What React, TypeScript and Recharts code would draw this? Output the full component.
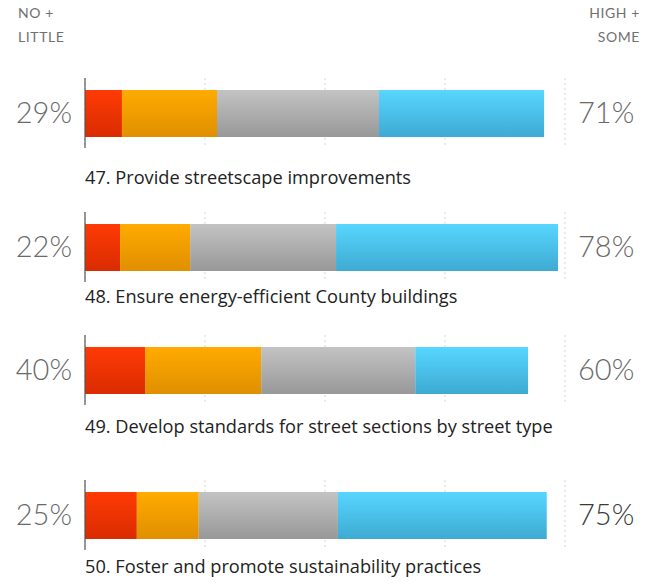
import { Bar, BarChart, CartesianGrid, XAxis, YAxis } from "recharts";

// survey items, top to bottom
const items = [
  "47. Provide streetscape improvements",
  "48. Ensure energy-efficient County buildings",
  "49. Develop standards for street sections by street type",
  "50. Foster and promote sustainability practices",
];

// priority shares (percent of all responses)
const noneVals = [7.7, 7.3, 12.5, 10.8];
const littleVals = [19.8, 14.6, 24.2, 12.9];
const someVals = [33.75, 30.4, 32.1, 29.0];
const highVals = [34.4, 46.25, 23.5, 43.5];

const lowLabels = ["29%", "22%", "40%", "25%"];
const highLabels = ["71%", "78%", "60%", "75%"];

const xTicks = [0, 25, 50, 75, 100];

// layout
const ROW_TOPS = [78, 212, 335, 480];
const LABEL_BASELINES = [184, 303, 433, 573];
const W = 652;
const ROW_H = 70;

const SEGMENTS = [
  { key: "none", top: "#ff3a05", bottom: "#d92c00" },
  { key: "little", top: "#ffab00", bottom: "#e08f00" },
  { key: "some", top: "#c3c3c3", bottom: "#989898" },
  { key: "high", top: "#57d6ff", bottom: "#3eaad2" },
];

function PctTick(props: any) {
  const { x, y, payload, textAnchor, dark } = props;
  return (
    <text
      x={x}
      y={y}
      dy={10}
      textAnchor={textAnchor}
      fontSize={29}
      fontFamily="Lato, sans-serif"
      fontWeight={300}
      fill={dark ? "#3a3a3a" : "#6a6a6a"}
    >
      {payload.value}
    </text>
  );
}

function Row({ i }: { i: number }) {
  const data = [
    {
      lowLabel: lowLabels[i],
      highLabel: highLabels[i],
      none: noneVals[i],
      little: littleVals[i],
      some: someVals[i],
      high: highVals[i],
    },
  ];
  const last = i === items.length - 1;
  return (
    <div style={{ position: "absolute", left: 0, top: ROW_TOPS[i] }}>
      <BarChart
        width={W}
        height={ROW_H}
        data={data}
        layout="vertical"
        margin={{ top: 0, right: 0, bottom: 0, left: 0 }}
        barSize={47}
      >
        <defs>
          {SEGMENTS.map((s) => (
            <linearGradient key={s.key} id={`g-${s.key}-${i}`} x1="0" y1="0" x2="0" y2="1">
              <stop offset="0%" stopColor={s.top} />
              <stop offset="100%" stopColor={s.bottom} />
            </linearGradient>
          ))}
        </defs>
        <CartesianGrid horizontal={false} stroke="#d6d6d6" strokeDasharray="2 3" />
        <XAxis type="number" domain={[0, 100]} ticks={xTicks} hide />
        <YAxis
          yAxisId="l"
          type="category"
          dataKey="lowLabel"
          width={85}
          tickLine={false}
          tickSize={0}
          tickMargin={13}
          axisLine={{ stroke: "#555", strokeWidth: 1.2 }}
          tick={<PctTick />}
        />
        <YAxis
          yAxisId="r"
          orientation="right"
          type="category"
          dataKey="highLabel"
          width={87}
          tickLine={false}
          tickSize={0}
          tickMargin={13}
          axisLine={false}
          tick={<PctTick dark={last} />}
        />
        {SEGMENTS.map((s) => (
          <Bar
            key={s.key}
            dataKey={s.key}
            yAxisId="l"
            stackId="a"
            fill={`url(#g-${s.key}-${i})`}
            isAnimationActive={false}
          />
        ))}
      </BarChart>
    </div>
  );
}

export default function App() {
  return (
    <div style={{ position: "absolute", left: 0, top: 0, width: W, height: 586, background: "#fff" }}>
      <svg width={W} height={586} style={{ position: "absolute", left: 0, top: 0 }}>
        <g fontFamily="Lato, sans-serif" fontSize={14} fill="#707070" letterSpacing={0.6}>
          <text x={18} y={18}>NO +</text>
          <text x={18} y={42}>LITTLE</text>
          <text x={640} y={18} textAnchor="end">HIGH +</text>
          <text x={640} y={42} textAnchor="end">SOME</text>
        </g>
        <g fontFamily="'Open Sans', sans-serif" fontSize={18.2} fill="#222">
          {items.map((t, i) => (
            <text key={t} x={85} y={LABEL_BASELINES[i]}>
              {t}
            </text>
          ))}
        </g>
      </svg>
      {items.map((_, i) => (
        <Row key={i} i={i} />
      ))}
    </div>
  );
}
